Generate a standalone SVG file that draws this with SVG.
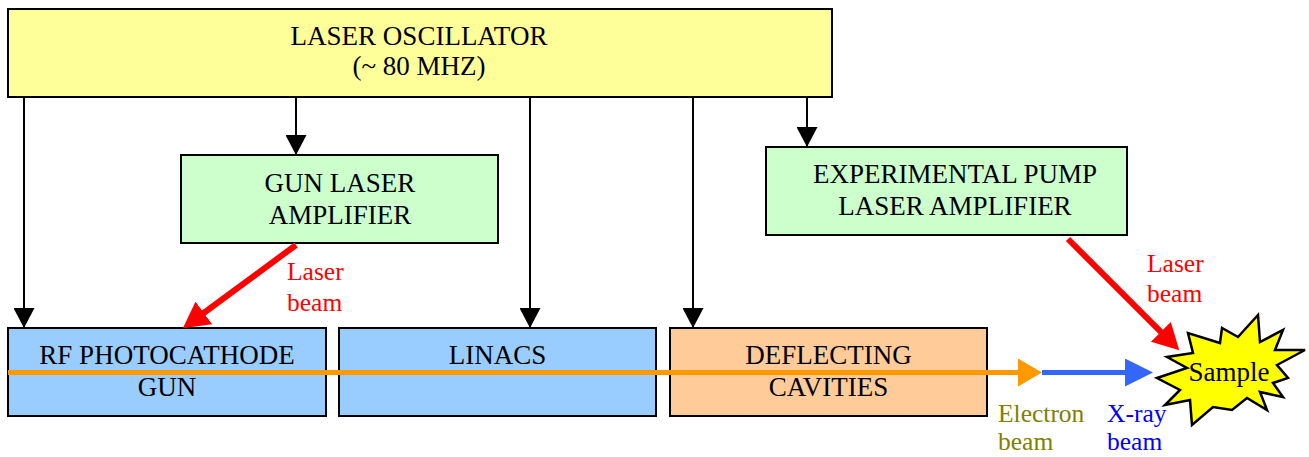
<svg xmlns="http://www.w3.org/2000/svg" width="1309" height="457" viewBox="0 0 1309 457" font-family="'Liberation Serif', 'Times New Roman', 'DejaVu Serif', serif">
  <defs>
    <style>
      .box { stroke: #000; stroke-width: 2; }
      .osc { fill: #FFFF99; }
      .amp { fill: #CCFFCC; }
      .acc { fill: #99CCFF; }
      .dfl { fill: #FFCC99; }
      text { font-family: 'Liberation Serif', 'Times New Roman', 'DejaVu Serif', serif; }
      .lbl { font-size: 27px; fill: #000; text-anchor: middle; }
      .note { font-size: 25.5px; }
      .sync { stroke: #000; stroke-width: 2; fill: none; marker-end: url(#headBlack); }
      .laser { stroke: #FF0000; stroke-width: 6; fill: none; marker-end: url(#headRed); }
    </style>
    <marker id="headBlack" markerUnits="userSpaceOnUse" markerWidth="20" markerHeight="21" refX="20" refY="10.5" orient="auto">
      <path d="M0,0 L20,10.5 L0,21 z" fill="#000"/>
    </marker>
    <marker id="headRed" markerUnits="userSpaceOnUse" markerWidth="26" markerHeight="28" refX="1" refY="14" orient="auto">
      <path d="M0,0 L26,14 L0,28 z" fill="#FF0000"/>
    </marker>
    <marker id="headOrange" markerUnits="userSpaceOnUse" markerWidth="24" markerHeight="28" refX="1" refY="14" orient="auto">
      <path d="M0,0 L24,14 L0,28 z" fill="#FF9900"/>
    </marker>
    <marker id="headBlue" markerUnits="userSpaceOnUse" markerWidth="28" markerHeight="28" refX="1" refY="14" orient="auto">
      <path d="M0,0 L28,14 L0,28 z" fill="#3366FF"/>
    </marker>
  </defs>

  <rect width="1309" height="457" fill="#fff"/>

  <!-- Laser oscillator -->
  <g id="oscillator">
    <rect class="box osc" x="8" y="9" width="824" height="88"/>
    <text class="lbl" x="419" y="45">LASER OSCILLATOR</text>
    <text class="lbl" x="419" y="75">(~ 80 MHZ)</text>
  </g>

  <!-- Gun laser amplifier -->
  <g id="gun-laser-amplifier">
    <rect class="box amp" x="181" y="155" width="317" height="88"/>
    <text class="lbl" x="340" y="192">GUN LASER</text>
    <text class="lbl" x="340" y="224">AMPLIFIER</text>
  </g>

  <!-- Experimental pump laser amplifier -->
  <g id="pump-laser-amplifier">
    <rect class="box amp" x="766" y="147" width="361" height="88"/>
    <text class="lbl" x="955" y="183">EXPERIMENTAL PUMP</text>
    <text class="lbl" x="955" y="215">LASER AMPLIFIER</text>
  </g>

  <!-- RF photocathode gun -->
  <g id="rf-gun">
    <rect class="box acc" x="8" y="328" width="318" height="88"/>
    <text class="lbl" x="167" y="364">RF PHOTOCATHODE</text>
    <text class="lbl" x="167" y="396">GUN</text>
  </g>

  <!-- Linacs -->
  <g id="linacs">
    <rect class="box acc" x="339" y="328" width="317" height="88"/>
    <text class="lbl" x="497.5" y="364">LINACS</text>
  </g>

  <!-- Deflecting cavities -->
  <g id="deflecting-cavities">
    <rect class="box dfl" x="670" y="328" width="317" height="88"/>
    <text class="lbl" x="828.5" y="364">DEFLECTING</text>
    <text class="lbl" x="828.5" y="396">CAVITIES</text>
  </g>

  <!-- Sample -->
  <g id="sample">
    <polygon points="1157,378 1187,368 1167,357 1193,353 1188,333 1220,343 1222,328 1238,337 1258,315 1260,342 1283,330 1275,350 1305,350 1277,365 1288,378 1273,383 1283,397 1260,392 1267,410 1247,398 1232,410 1213,407 1192,425 1190,400 1165,405 1180,390" fill="#FFFF00" stroke="#000" stroke-width="2.5" stroke-linejoin="miter"/>
    <text class="lbl" x="1229" y="381">Sample</text>
  </g>

  <!-- Connectors -->
  <g id="connectors">
    <!-- timing lines from the oscillator -->
    <line class="sync" x1="24" y1="97" x2="24" y2="328"/>
    <line class="sync" x1="296" y1="97" x2="296" y2="155"/>
    <line class="sync" x1="530" y1="97" x2="530" y2="328"/>
    <line class="sync" x1="693" y1="97" x2="693" y2="328"/>
    <line class="sync" x1="807" y1="97" x2="807" y2="147"/>

    <!-- laser beams -->
    <line class="laser" x1="296" y1="245" x2="203" y2="313.5"/>
    <line class="laser" x1="1068" y1="239" x2="1161.6" y2="332.6"/>

    <!-- electron beam and x-ray beam -->
    <line x1="8" y1="372.5" x2="1019" y2="372.5" stroke="#FF9900" stroke-width="5" marker-end="url(#headOrange)"/>
    <line x1="1042" y1="372.5" x2="1126" y2="372.5" stroke="#3366FF" stroke-width="5" marker-end="url(#headBlue)"/>
  </g>

  <!-- Beam labels -->
  <g id="labels">
    <text class="note" x="287" y="280" fill="#FF0000">Laser</text>
    <text class="note" x="287" y="311" fill="#FF0000">beam</text>
    <text class="note" x="1147" y="272" fill="#FF0000">Laser</text>
    <text class="note" x="1147" y="302" fill="#FF0000">beam</text>
    <text class="note" x="998" y="422" fill="#808000">Electron</text>
    <text class="note" x="998" y="450" fill="#808000">beam</text>
    <text class="note" x="1107" y="422" fill="#0000FF">X-ray</text>
    <text class="note" x="1107" y="450" fill="#0000FF">beam</text>
  </g>
</svg>
